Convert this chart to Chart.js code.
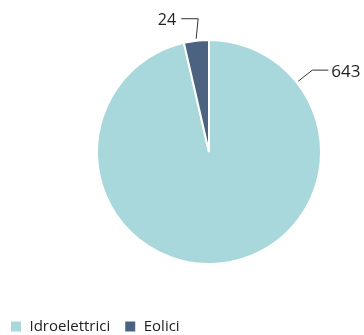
<!DOCTYPE html>
<html>
<head>
<meta charset="utf-8">
<script src="https://cdn.jsdelivr.net/npm/chart.js@4"></script>
<style>
  html, body { margin: 0; padding: 0; background: #fff; }
  #wrap { width: 364px; height: 335px; }
</style>
</head>
<body>
<div id="wrap"><canvas id="chart"></canvas></div>
<script>
// data
const labels = ["Idroelettrici", "Eolici"];
const values = [643, 24];
const colors = ["#a8d8db", "#4c6281"];

// leader label styling per slice
const leaderAngle = [0.9, null]; // radians from slice start, null = mid angle

const leaderLabels = {
  id: "leaderLabels",
  afterDatasetsDraw(chart) {
    const ctx = chart.ctx;
    const arcs = chart.getDatasetMeta(0).data;
    ctx.save();
    ctx.strokeStyle = "#333";
    ctx.lineWidth = 1;
    ctx.fillStyle = "#222";
    ctx.textBaseline = "middle";
    arcs.forEach((arc, i) => {
      const p = arc.getProps(["x", "y", "startAngle", "endAngle", "outerRadius"], true);
      const a = leaderAngle[i] == null ? (p.startAngle + p.endAngle) / 2 : p.startAngle + leaderAngle[i];
      const r = p.outerRadius + 2;
      const x0 = p.x + Math.cos(a) * r;
      const y0 = p.y + Math.sin(a) * r;
      ctx.beginPath();
      ctx.moveTo(x0, y0);
      if (i === 0) {
        const x1 = x0 + 14, y1 = y0 - 11;
        ctx.lineTo(x1, y1);
        ctx.lineTo(x1 + 16, y1);
        ctx.stroke();
        ctx.textAlign = "left";
        ctx.font = "17px 'Open Sans'";
        ctx.fillText(values[i], x1 + 19, y1 + 2);
      } else {
        const x1 = x0 + 2, y1 = y0 - 20;
        ctx.lineTo(x1, y1);
        ctx.lineTo(x1 - 17, y1);
        ctx.stroke();
        ctx.textAlign = "right";
        ctx.font = "16px 'Open Sans'";
        ctx.fillText(values[i], x1 - 22, y1 + 2);
      }
    });
    ctx.restore();
  }
};

const placeBoxes = {
  id: "placeBoxes",
  afterLayout(chart) {
    chart.chartArea = { left: 96, top: 39, right: 322, bottom: 265, width: 226, height: 226 };
    const lg = chart.legend;
    const h = lg.height;
    lg.left = -4;
    lg.right = 364;
    lg.top = 326.5 - 7.5 - 14;
    lg.bottom = lg.top + h;
  }
};

new Chart(document.getElementById("chart"), {
  type: "pie",
  data: {
    labels: labels,
    datasets: [{
      data: values,
      backgroundColor: colors,
      borderColor: "#fff",
      borderWidth: 2
    }]
  },
  options: {
    responsive: true,
    maintainAspectRatio: false,
    animation: false,
    layout: { padding: { top: 41, left: 98, right: 45, bottom: 0 } },
    plugins: {
      tooltip: { enabled: false },
      legend: {
        position: "bottom",
        align: "start",
        labels: {
          boxWidth: 12,
          boxHeight: 12,
          padding: 14,
          color: "#222",
          font: { family: "'Open Sans'", size: 15 }
        }
      }
    }
  },
  plugins: [leaderLabels, placeBoxes]
});
</script>
</body>
</html>
